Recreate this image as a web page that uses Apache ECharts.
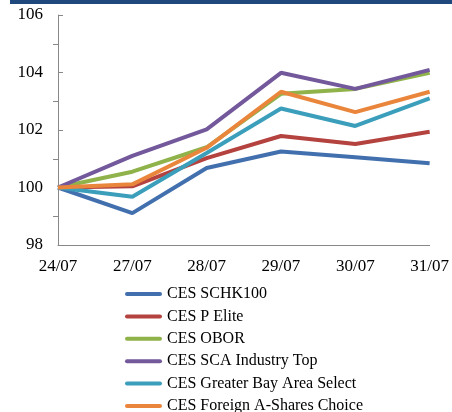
<!DOCTYPE html>
<html>
<head>
<meta charset="utf-8">
<script src="https://cdn.jsdelivr.net/npm/echarts@6/dist/echarts.min.js"></script>
<style>
html,body{margin:0;padding:0;background:#fff;}
#c{width:452px;height:412px;}
</style>
</head>
<body>
<div id="c"></div>
<script>
var categories = ['24/07','27/07','28/07','29/07','30/07','31/07'];
var seriesNames = ['CES SCHK100','CES P Elite','CES OBOR','CES SCA Industry Top','CES Greater Bay Area Select','CES Foreign A-Shares Choice'];
var schk100 = [100, 99.11, 100.68, 101.25, 101.05, 100.84];
var pElite = [100, 100.04, 101.02, 101.79, 101.51, 101.94];
var obor = [100, 100.55, 101.40, 103.26, 103.43, 103.99];
var scaTop = [100, 101.10, 102.02, 103.99, 103.43, 104.09];
var gba = [100, 99.68, 101.20, 102.75, 102.14, 103.10];
var foreignA = [100, 100.11, 101.38, 103.33, 102.62, 103.33];
var colors = ['#4270AE','#B4423F','#8FB24A','#73599B','#3B9EBB','#EA863C'];

var data = [schk100, pElite, obor, scaTop, gba, foreignA];
var font = "'Liberation Serif','Times New Roman',serif";

var chart = echarts.init(document.getElementById('c'));
chart.setOption({
  animation: false,
  color: colors,
  graphic: [{
    type: 'rect', shape: {x: 10, y: 0, width: 442, height: 4},
    style: {fill: '#1F497D'}
  }],
  grid: {left: 58, right: 21, top: 15, bottom: 167, containLabel: false},
  legend: {
    orient: 'vertical',
    left: 125, top: 286, height: 200, padding: 0,
    itemWidth: 37, itemHeight: 4, itemGap: 6.4,
    icon: 'path://M2,0 L35,0 A2,2 0 0 1 35,4 L2,4 A2,2 0 0 1 2,0 Z',
    data: seriesNames.map(function(n, i){ return {name: n, itemStyle: {color: colors[i]}}; }),
    textStyle: {fontFamily: font, fontSize: 16, lineHeight: 16, color: '#000'}
  },
  xAxis: {
    type: 'category', data: categories, boundaryGap: false,
    axisLine: {lineStyle: {color: '#888', width: 1}},
    axisTick: {show: false},
    axisLabel: {fontFamily: font, fontSize: 17, color: '#000', margin: 13}
  },
  yAxis: {
    type: 'value', min: 98, max: 106, interval: 2,
    axisLine: {show: true, lineStyle: {color: '#888', width: 1}},
    axisTick: {show: true, inside: true, length: 5, lineStyle: {color: '#888'}},
    minorTick: {show: true, splitNumber: 2, length: -5, lineStyle: {color: '#888'}},
    splitLine: {show: false},
    axisLabel: {fontFamily: font, fontSize: 17, color: '#000', margin: 15}
  },
  series: seriesNames.map(function(n, i){
    return {
      name: n, type: 'line', data: data[i], symbol: 'none',
      lineStyle: {width: 4, color: colors[i]},
      itemStyle: {color: colors[i]}
    };
  })
});
</script>
</body>
</html>
